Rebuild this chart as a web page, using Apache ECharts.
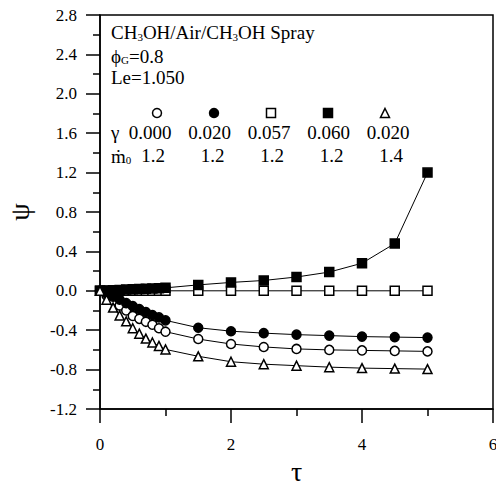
<!DOCTYPE html>
<html><head><meta charset="utf-8">
<script src="https://cdn.jsdelivr.net/npm/echarts@6/dist/echarts.min.js"></script>
<style>html,body{margin:0;padding:0;background:#fff}#c{width:496px;height:486px}</style>
</head><body><div id="c"></div>
<script>
// ---- data ----
const tau = [0, 0.1, 0.2, 0.3, 0.4, 0.5, 0.6, 0.7, 0.8, 0.9, 1.0, 1.5, 2, 2.5, 3, 3.5, 4, 4.5, 5];
const psiGamma0000 = [0, -0.05, -0.10, -0.15, -0.20, -0.255, -0.285, -0.315, -0.345, -0.38, -0.415, -0.49, -0.54, -0.57, -0.59, -0.60, -0.605, -0.61, -0.615];
const psiGamma0020 = [0, -0.03, -0.06, -0.09, -0.125, -0.155, -0.185, -0.215, -0.245, -0.27, -0.30, -0.375, -0.41, -0.43, -0.445, -0.455, -0.465, -0.47, -0.475];
const psiGamma0057 = [0, 0, 0, 0, 0, 0, 0, 0, 0, 0, 0, 0, 0, 0, 0, 0, 0, 0, 0];
const psiGamma0060 = [0, 0.003, 0.006, 0.009, 0.012, 0.015, 0.018, 0.021, 0.024, 0.027, 0.03, 0.06, 0.085, 0.105, 0.14, 0.19, 0.28, 0.48, 1.2];
const psiGamma0020m14 = [0, -0.09, -0.17, -0.25, -0.31, -0.38, -0.435, -0.485, -0.525, -0.56, -0.595, -0.665, -0.72, -0.745, -0.76, -0.775, -0.785, -0.79, -0.795];
const gammaLabels = ['0.000', '0.020', '0.057', '0.060', '0.020'];
const mdotLabels = ['1.2', '1.2', '1.2', '1.2', '1.4'];
const seriesNames = ['γ=0.000, ṁ0=1.2', 'γ=0.020, ṁ0=1.2', 'γ=0.057, ṁ0=1.2', 'γ=0.060, ṁ0=1.2', 'γ=0.020, ṁ0=1.4'];
const seriesValues = [psiGamma0000, psiGamma0020, psiGamma0057, psiGamma0060, psiGamma0020m14];

// ---- styling ----
const FONT = 'Liberation Serif';
const symbols = ['circle', 'circle', 'rect', 'rect', 'triangle'];
const fills = ['#fff', '#000', '#fff', '#000', '#fff'];
const SYM = 9;

const chart = echarts.init(document.getElementById('c'), null, {renderer: 'svg'});

const series = seriesValues.map((vals, i) => ({
  name: seriesNames[i],
  type: 'line',
  data: tau.map((t, k) => [t, vals[k]]),
  symbol: symbols[i],
  symbolSize: SYM,
  showAllSymbol: true,
  lineStyle: {color: '#000', width: 1},
  itemStyle: {color: fills[i], borderColor: '#000', borderWidth: 1.5},
  emphasis: {disabled: true},
  z: 2 + i
}));

// legend key (symbol row + γ row + ṁ0 row)
const keySymX = 157, keySymStep = 57, keySymY = 113;
const textStep = 59.5, textLeft = 150;
const rich = {
  n: {fontFamily: FONT, fontSize: 19, lineHeight: 20, verticalAlign: 'bottom', color: '#000'},
  s: {fontFamily: FONT, fontSize: 11, lineHeight: 8, verticalAlign: 'bottom', color: '#000'}
};
const graphics = [
  {type: 'text', x: 111, y: 32, style: {text: '{n|CH}{s|3}{n|OH/Air/CH}{s|3}{n|OH Spray}', rich, textVerticalAlign: 'middle'}},
  {type: 'text', x: 111, y: 55.5, style: {text: '{n|ϕ}{s|G}{n|=0.8}', rich, textVerticalAlign: 'middle'}},
  {type: 'text', x: 111, y: 77, style: {text: '{n|Le=1.050}', rich, textVerticalAlign: 'middle'}},
  {type: 'text', x: 111, y: 132, style: {text: '{n|γ}', rich, textVerticalAlign: 'middle'}},
  {type: 'text', x: 111, y: 155.5, style: {text: '{n|ṁ}{s|0}', rich, textVerticalAlign: 'middle'}}
];
gammaLabels.forEach((t, i) => graphics.push({type: 'text', x: textLeft + i * textStep, y: 132,
  style: {text: t, font: '19px "' + FONT + '"', fill: '#000', textAlign: 'center', textVerticalAlign: 'middle'}}));
mdotLabels.forEach((t, i) => graphics.push({type: 'text', x: textLeft + 3 + i * textStep, y: 155.5,
  style: {text: t, font: '19px "' + FONT + '"', fill: '#000', textAlign: 'center', textVerticalAlign: 'middle'}}));
symbols.forEach((s, i) => {
  const cx = keySymX + i * keySymStep, cy = keySymY, h = SYM / 2;
  const style = {fill: fills[i], stroke: '#000', lineWidth: 1.5};
  if (s === 'circle') graphics.push({type: 'circle', shape: {cx, cy, r: h}, style});
  else if (s === 'rect') graphics.push({type: 'rect', shape: {x: cx - h, y: cy - h, width: SYM, height: SYM}, style});
  else graphics.push({type: 'polygon', shape: {points: [[cx, cy - h], [cx + h, cy + h], [cx - h, cy + h]]}, style});
});

const axisCommon = {
  axisLine: {show: true, onZero: false, lineStyle: {color: '#000', width: 1.5}},
  axisTick: {show: true, inside: false, length: 14, lineStyle: {color: '#000', width: 1.5}},
  minorTick: {show: true, splitNumber: 2, length: 7, lineStyle: {color: '#000', width: 1.5}},
  splitLine: {show: false},
  minorSplitLine: {show: false}
};

chart.setOption({
  animation: false,
  backgroundColor: '#fff',
  grid: {left: 100, right: 3, top: 15, bottom: 77, show: true, borderColor: '#000', borderWidth: 1.5, backgroundColor: 'transparent', containLabel: false, outerBoundsMode: 'none'},
  xAxis: Object.assign({
    type: 'value', min: 0, max: 6, interval: 2,
    name: 'τ', nameLocation: 'middle', nameGap: 45,
    nameTextStyle: {fontFamily: FONT, fontSize: 28, lineHeight: 28, color: '#000'},
    axisLabel: {fontFamily: FONT, fontSize: 17, color: '#000', margin: 27}
  }, axisCommon),
  yAxis: Object.assign({
    type: 'value', min: -1.2, max: 2.8, interval: 0.4,
    name: 'ψ', nameLocation: 'middle', nameGap: 67, nameRotate: 90,
    nameTextStyle: {fontFamily: FONT, fontSize: 28, color: '#000'},
    axisLabel: {fontFamily: FONT, fontSize: 17, color: '#000', margin: 23, formatter: v => v.toFixed(1)}
  }, axisCommon),
  graphic: graphics,
  series
});
</script>
</body></html>
